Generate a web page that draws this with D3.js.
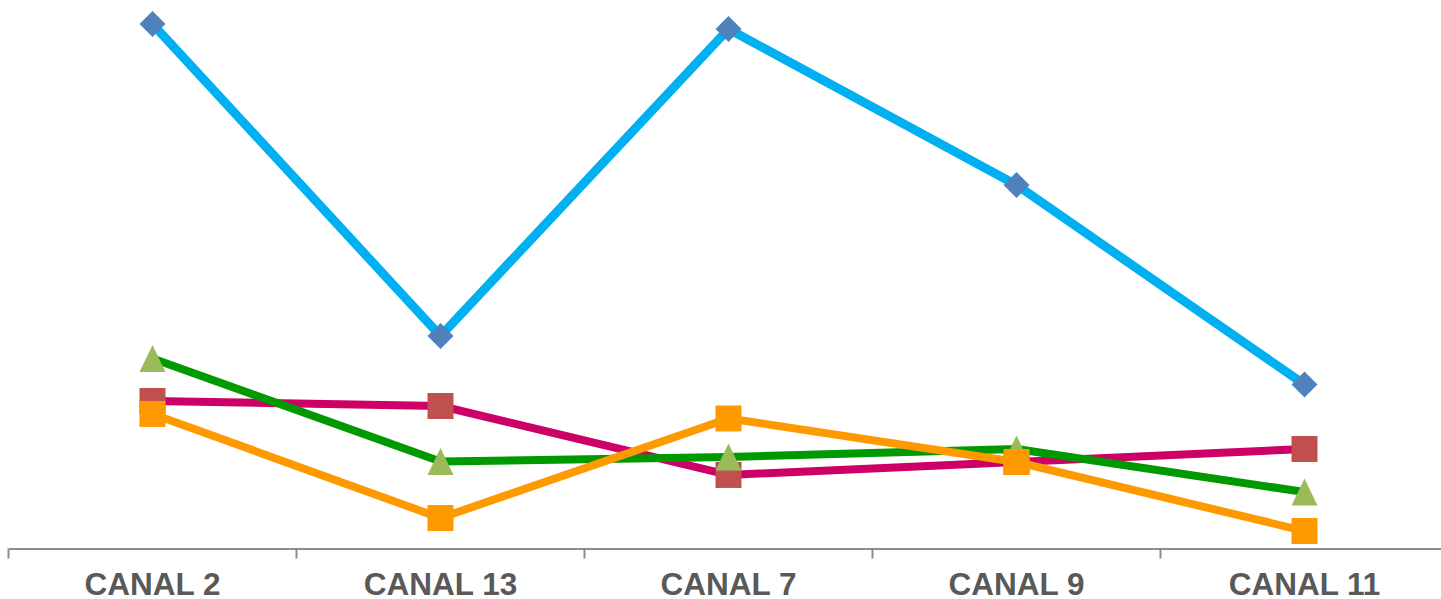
<!DOCTYPE html>
<html><head><meta charset="utf-8">
<script src="https://cdn.jsdelivr.net/npm/d3@7/dist/d3.min.js"></script>
<style>html,body{margin:0;padding:0;background:#fff;overflow:hidden}</style>
</head><body>
<svg id="c" width="1441" height="599"></svg>
<script>
const categories = ["CANAL 2","CANAL 13","CANAL 7","CANAL 9","CANAL 11"];
const seriesA = [50.0, 20.23, 49.52, 34.64, 15.6];
const seriesB = [14.03, 13.55, 6.97, 8.21, 9.45];
const seriesC = [18.08, 8.25, 8.68, 9.45, 5.34];
const seriesD = [12.79, 2.86, 12.36, 8.21, 1.62];

const series = [
  {values: seriesA, line:"#00B0F0", marker:"#4F81BD", shape:"diamond"},
  {values: seriesB, line:"#CC0066", marker:"#C0504D", shape:"square"},
  {values: seriesC, line:"#009900", marker:"#9BBB59", shape:"triangle"},
  {values: seriesD, line:"#FF9900", marker:"#FF9900", shape:"square"}
];

const svg = d3.select("#c");
const x = d3.scaleBand().domain(categories).range([8.5, 1448.5]);
const y = d3.scaleLinear().domain([0, 50]).range([548, 24]);
const cx = c => x(c) + x.bandwidth()/2;

// axis
const axisY = 548.5;
const ax = svg.append("g").attr("transform", `translate(0,${axisY})`)
  .call(d3.axisBottom(x).tickSize(0).tickSizeOuter(0).tickPadding(0));
ax.select(".domain").attr("stroke", "#8C8C8C").attr("stroke-width", 2);
ax.selectAll(".tick text").attr("dy", null).attr("y", 46.5)
  .attr("font-family", "Liberation Sans, Arial, sans-serif")
  .attr("font-weight", "bold").attr("font-size", 31.5).attr("fill", "#595959");
svg.append("g").selectAll("line").data(categories).join("line")
  .attr("x1", d => x(d)).attr("x2", d => x(d))
  .attr("y1", axisY).attr("y2", axisY + 10)
  .attr("stroke", "#8C8C8C").attr("stroke-width", 2);

const line = d3.line().x((d,i) => cx(categories[i])).y(d => y(d));

function shapePath(shape, px, py) {
  const p = d3.path();
  if (shape === "diamond") {
    const h = 13;
    p.moveTo(px, py - h); p.lineTo(px + h, py); p.lineTo(px, py + h); p.lineTo(px - h, py); p.closePath();
  } else if (shape === "square") {
    const h = 13;
    p.rect(px - h, py - h, 2*h, 2*h);
  } else {
    const w = 13, h = 13.5;
    p.moveTo(px, py - h); p.lineTo(px + w, py + h); p.lineTo(px - w, py + h); p.closePath();
  }
  return p.toString();
}

series.forEach(s => {
  const g = svg.append("g");
  g.append("path").attr("d", line(s.values)).attr("fill", "none")
    .attr("stroke", s.line).attr("stroke-width", s.shape === "diamond" ? 9 : 8)
    .attr("stroke-linejoin", "round");
  g.selectAll("path.m").data(s.values).join("path").attr("class", "m")
    .attr("d", (d,i) => shapePath(s.shape, cx(categories[i]), y(d)))
    .attr("fill", s.marker);
});
</script>
</body></html>
